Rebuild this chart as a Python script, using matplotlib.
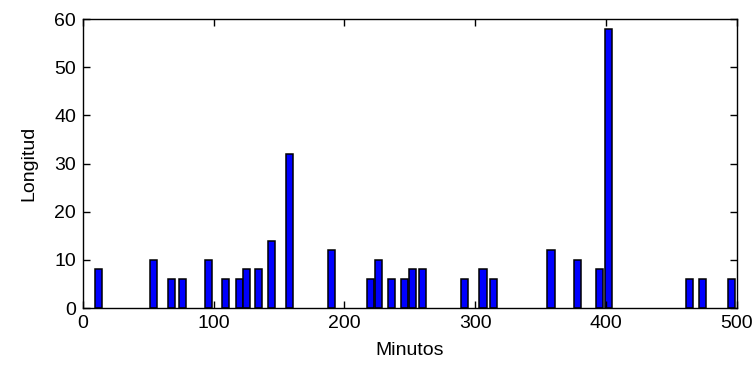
import matplotlib
matplotlib.use("Agg")
import matplotlib.pyplot as plt

# minutos y longitudes
minutos = [12, 54, 68, 76, 96, 109, 120, 125, 134, 144, 158, 190, 220, 226,
           236, 246, 252, 260, 292, 306, 314, 358, 378, 395, 402, 464, 474, 496]
longitud = [8, 10, 6, 6, 10, 6, 6, 8, 8, 14, 32, 12, 6, 10,
            6, 6, 8, 8, 6, 8, 6, 12, 10, 8, 58, 6, 6, 6]

plt.rcParams['font.family'] = ['Liberation Sans', 'DejaVu Sans']

fig = plt.figure(figsize=(7.54, 3.68), dpi=100)
ax = fig.add_axes([0.110, 0.163, 0.867, 0.785])

ax.bar(minutos, longitud, width=5.5, color='#0000FF', edgecolor='black', linewidth=1.1)

ax.set_xlim(0, 500)
ax.set_ylim(0, 60)
ax.set_xticks(range(0, 501, 100))
ax.set_yticks(range(0, 61, 10))
ax.tick_params(direction='in', length=5, width=1, top=True, right=True,
               labelsize=14, pad=5)
for s in ax.spines.values():
    s.set_linewidth(1)

ax.set_xlabel('Minutos', fontsize=14, labelpad=7)
ax.set_ylabel('Longitud', fontsize=14, labelpad=12)

fig.savefig('out.png', dpi=100)
